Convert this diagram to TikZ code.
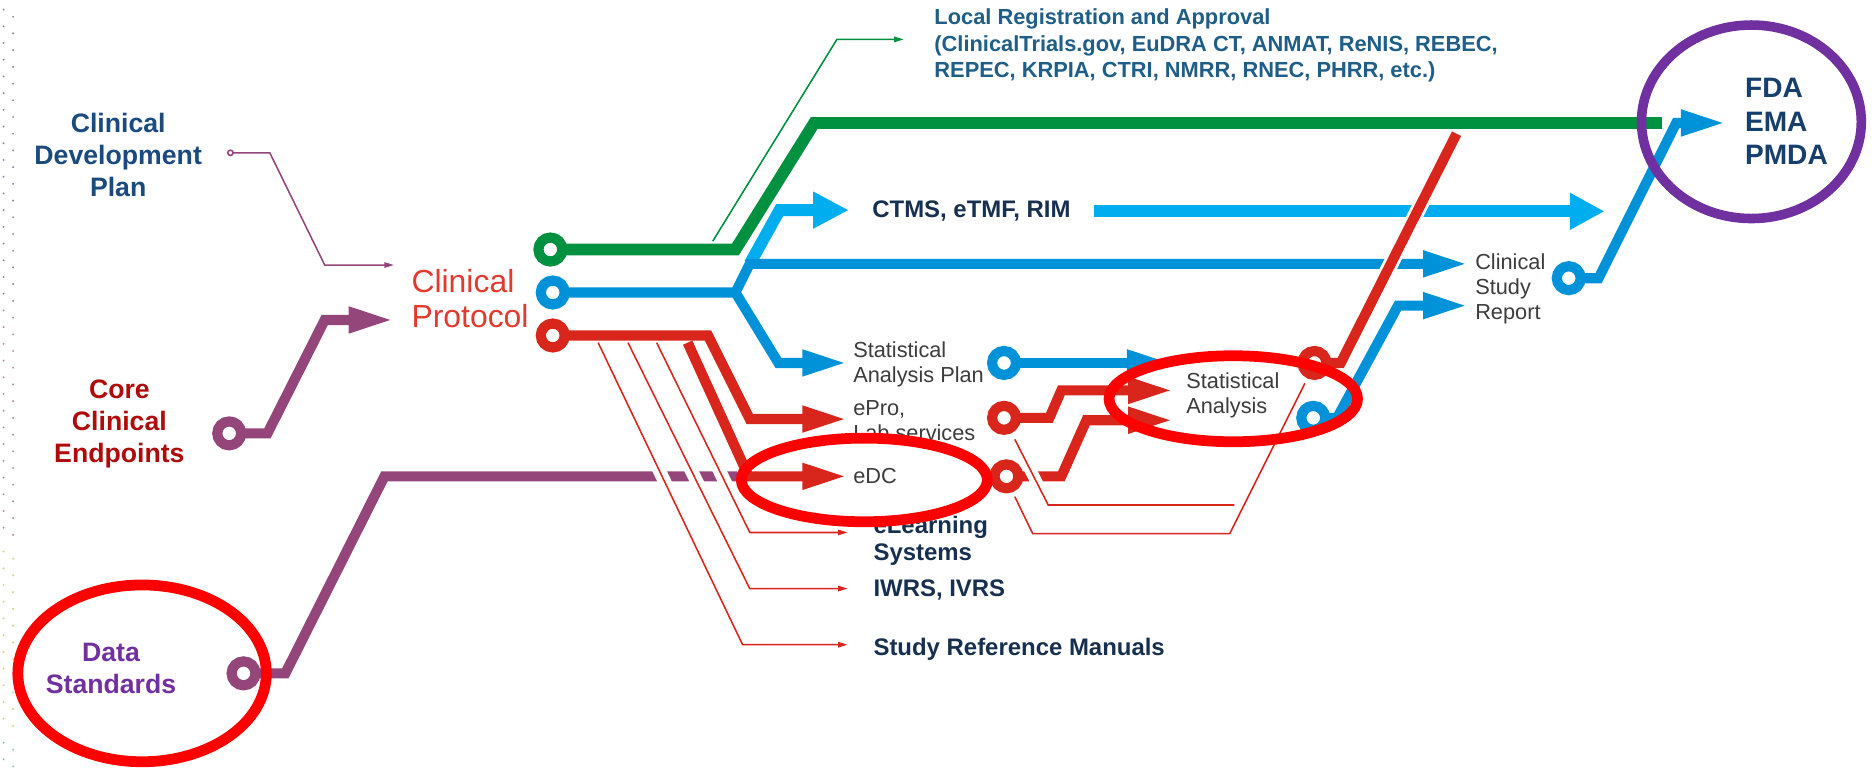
\documentclass[tikz,border=0pt]{standalone}
\usepackage{fontspec}
\setmainfont{Liberation Sans}
\usetikzlibrary{arrows.meta}

\definecolor{lgreen}{HTML}{009140}
\definecolor{lblue}{HTML}{0092D8}
\definecolor{lcyan}{HTML}{00AEEF}
\definecolor{lred}{HTML}{D9261C}
\definecolor{lplum}{HTML}{944579}
\definecolor{markred}{HTML}{FF0000}
\definecolor{fdaviolet}{HTML}{7030A0}
\definecolor{cdpblue}{HTML}{1B4A7E}
\definecolor{ccered}{HTML}{B00B0B}
\definecolor{protred}{HTML}{E23A2E}
\definecolor{regblue}{HTML}{1F5E86}
\definecolor{sysnavy}{HTML}{17304F}
\definecolor{labgray}{HTML}{3C3C3C}
\definecolor{fdablue}{HTML}{173F6C}
\definecolor{dotA}{HTML}{7A8AA8}
\definecolor{dotB}{HTML}{B08898}
\definecolor{dotC}{HTML}{D4CC80}
\definecolor{dotD}{HTML}{90B8B8}

\newcommand{\sidefont}{\bfseries\fontsize{6.35}{7.68}\selectfont}
\newcommand{\protofont}{\fontsize{7.6}{8.25}\selectfont}
\newcommand{\regfont}{\bfseries\fontsize{5.2}{6.26}\selectfont}
\newcommand{\sysfont}{\bfseries\fontsize{5.7}{6.26}\selectfont}
\newcommand{\grayfont}{\fontsize{5.18}{5.9}\selectfont}
\newcommand{\fdafont}{\bfseries\fontsize{6.69}{7.97}\selectfont}

\tikzset{
  track/.style={line width=0.85mm},
  hair/.style={line width=0.13mm},
  bigtip/.style={-{Triangle[length=3.8mm,width=2mm]}},
  smalltip/.style={-{Triangle[length=0.8mm,width=0.45mm]}},
  cased/.style={preaction={draw=white,line width=#1,arrows=-}},
  ring/.style={circle,fill=white,line width=0.85mm,minimum size=2mm,inner sep=0pt},
  lbl/.style={inner sep=0pt,anchor=west,align=left},
  sidelbl/.style={inner sep=0pt,align=center,font=\sidefont},
  graylbl/.style={lbl,font=\grayfont,text=labgray},
  syslbl/.style={lbl,font=\sysfont,text=sysnavy},
  hilite/.style={draw=markred,line width=0.9mm},
}

\begin{document}
\begin{tikzpicture}[x=0.01cm,y=-0.01cm]
\useasboundingbox (0,0) rectangle (1568,645);

% dots along the left edge
\foreach \y in {8,22,...,250}
  \fill[dotA] (3,\y) circle[radius=0.09mm] (11,\y+6) circle[radius=0.09mm];
\foreach \y in {260,274,...,450}
  \fill[dotB] (3,\y) circle[radius=0.09mm] (11,\y+6) circle[radius=0.09mm];
\foreach \y in {462,476,...,610}
  \fill[dotC] (3,\y) circle[radius=0.09mm] (11,\y+6) circle[radius=0.09mm];
\foreach \y in {622,636}
  \fill[dotD] (3,\y) circle[radius=0.09mm] (11,\y+6) circle[radius=0.09mm];

% ring centres
\coordinate (rCDP) at (193,128);
\coordinate (rCCE) at (192,363);
\coordinate (rDS) at (204,564);
\coordinate (rG) at (461,209);
\coordinate (rB) at (463,245);
\coordinate (rR) at (463,281);
\coordinate (rSAP) at (841,304);
\coordinate (rEPro) at (841,350);
\coordinate (rEDC) at (843,399);
\coordinate (rSAr) at (1101,304);
\coordinate (rSAb) at (1100,350);
\coordinate (rCSR) at (1314,233);

% free ends
\coordinate (protInA) at (330,222);
\coordinate (protInB) at (330,268);
\coordinate (dsEnd) at (622,399);
\coordinate (regFoot) at (597,202);
\coordinate (regIn) at (757,33);
\coordinate (greenEnd) at (1392,103);
\coordinate (ctmsIn) at (711,176);
\coordinate (ctmsOut) at (916,177);
\coordinate (ctmsTip) at (1344,177);
\coordinate (csrInA) at (1230,221);
\coordinate (csrInB) at (1230,256);
\coordinate (sapIn) at (710,304);
\coordinate (eproIn) at (710,351);
\coordinate (edcIn) at (710,399);
\coordinate (elearnIn) at (710,446);
\coordinate (iwrsIn) at (710,493);
\coordinate (srmIn) at (710,540);
\coordinate (saIn) at (982,304);
\coordinate (saInA) at (983,327);
\coordinate (saInB) at (983,352);
\coordinate (redTop) at (1220,112);
\coordinate (fdaIn) at (1446,103);

% inputs of the protocol
\draw[hair,lplum,smalltip] (rCDP) -- (226,128) -- (272,222) -- (protInA);
\node[circle,draw=lplum,hair,fill=white,minimum size=0.45mm,inner sep=0pt] at (rCDP) {};
\draw[track,lplum,bigtip] (rCCE) -- (224,363) -- (272,268) -- (protInB);
\draw[track,lplum] (rDS) -- (239,564) -- (322,399) -- (dsEnd);

% green: registration and submission
\draw[hair,lgreen,smalltip] (regFoot) -- (701,33) -- (regIn);
\draw[lgreen,line width=1mm] (rG) -- (616,209) -- (682,103) -- (greenEnd);

% blue
\draw[lcyan,line width=1mm,-{Triangle[length=3mm,width=2.9mm]}] (628,221) -- (653,176) -- (ctmsIn);
\draw[track,lblue,bigtip] (rB) -- (616,245) -- (628,221) -- (csrInA);
\draw[track,lblue,bigtip] (616,245) -- (652,304) -- (sapIn);
\draw[lcyan,line width=1mm,-{Triangle[length=2.9mm,width=2.9mm]}] (ctmsOut) -- (ctmsTip);

% red
\draw[hair,lred,smalltip,cased=1.1mm] (501,287) -- (622,540) -- (srmIn);
\draw[hair,lred,smalltip,cased=1.1mm] (526,287) -- (628,493) -- (iwrsIn);
\draw[hair,lred,smalltip,cased=1.1mm] (550,287) -- (628,446) -- (elearnIn);
\draw[track,lred,bigtip,cased=1.4mm] (576,287) -- (627,399) -- (edcIn);
\draw[track,lred,bigtip] (rR) -- (593,281) -- (628,351) -- (eproIn);

% analysis
\draw[track,lblue,bigtip] (rSAP) -- (saIn);
\draw[track,lred,bigtip] (rEPro) -- (879,350) -- (889,327) -- (saInA);
\draw[track,lred,bigtip] (rEDC) -- (889,399) -- (910,352) -- (saInB);
\draw[hair,lred,cased=1mm] (850,368) -- (878,423) -- (1034,423);
\draw[hair,lred,cased=1mm] (850,416) -- (865,447) -- (1030,447) -- (1093,321);
\draw[track,lred,cased=1.3mm] (rSAr) -- (1123,304) -- (redTop);
\draw[track,lblue,bigtip] (rSAb) -- (1120,350) -- (1171,256) -- (csrInB);
\draw[track,lblue,-{Triangle[length=3.8mm,width=2mm]}] (rCSR) -- (1339,233) -- (1404,103) -- (fdaIn);

\foreach \r/\c in {rCCE/lplum,rDS/lplum,rG/lgreen,rB/lblue,rR/lred,rSAP/lblue,
                   rEPro/lred,rEDC/lred,rSAr/lred,rSAb/lblue,rCSR/lblue}
  \node[ring,draw=\c] at (\r) {};

% labels
\node[sidelbl,text=cdpblue] (cdp) at (99,130) {Clinical\\Development\\Plan};
\node[sidelbl,text=ccered] (cce) at (100,355) {Core\\Clinical\\Endpoints};
\node[sidelbl,text=fdaviolet] (ds) at (93,560) {Data\\Standards};
\node[lbl,font=\protofont,text=protred] (protocol) at (344,250) {Clinical\\Protocol};
\node[lbl,font=\regfont,text=regblue] (local) at (782,38)
  {Local Registration and Approval\\(ClinicalTrials.gov, EuDRA CT, ANMAT, ReNIS, REBEC,\\REPEC, KRPIA, CTRI, NMRR, RNEC, PHRR, etc.)};
\node[syslbl] (ctms) at (730,177) {CTMS, eTMF, RIM};
\node[graylbl] (sap) at (714,305) {Statistical\\Analysis Plan};
\node[graylbl] (epro) at (714,352) {ePro,\\Lab services};
\node[graylbl] (edc) at (714,399) {eDC};
\node[syslbl] (elearn) at (731,453) {eLearning\\Systems};
\node[syslbl] (iwrs) at (731,494) {IWRS, IVRS};
\node[syslbl] (srm) at (731,544) {Study Reference Manuals};
\node[graylbl] (sa) at (993,331) {Statistical\\Analysis};
\node[graylbl] (csr) at (1235,242) {Clinical\\Study\\Report};
\node[lbl,font=\fdafont,text=fdablue] (fda) at (1461,102) {FDA\\EMA\\PMDA};

% highlights
\draw[hilite] (119,564) ellipse [x radius=1.04cm,y radius=0.74cm];
\draw[hilite] (724,402) ellipse [x radius=1.03cm,y radius=0.35cm];
\draw[hilite] (1033,334) ellipse [x radius=1.04cm,y radius=0.36cm];
\draw[fdaviolet,line width=0.8mm] (1467,102) ellipse [x radius=0.92cm,y radius=0.81cm];
\end{tikzpicture}
\end{document}
